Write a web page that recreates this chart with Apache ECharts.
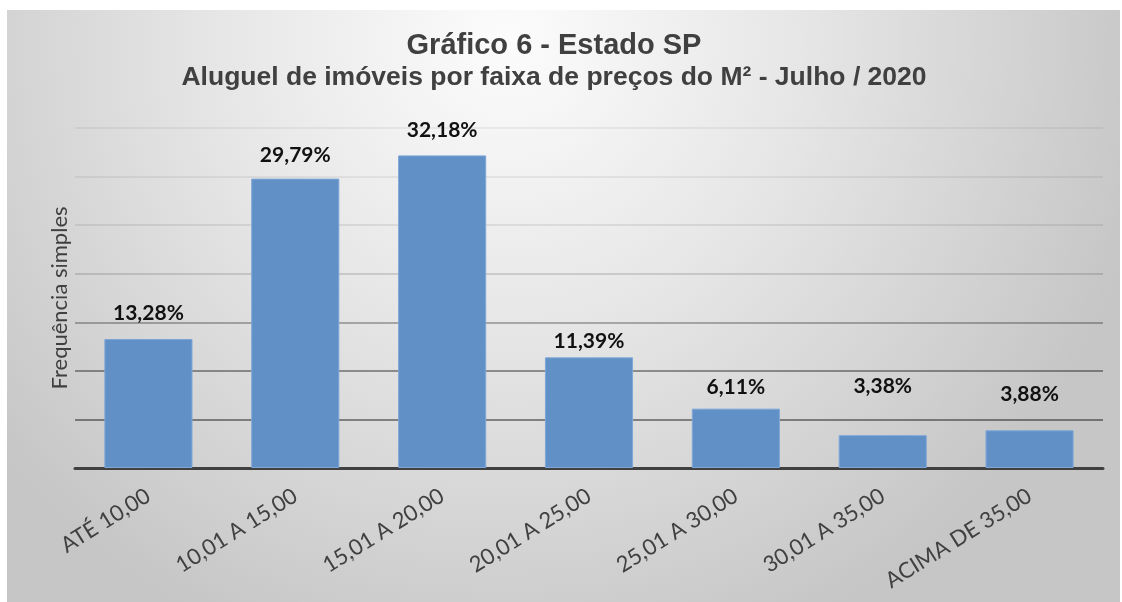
<!DOCTYPE html>
<html><head><meta charset="utf-8">
<script src="https://cdn.jsdelivr.net/npm/echarts@6/dist/echarts.min.js"></script>
<style>
html,body{margin:0;padding:0;background:#fff;width:1122px;height:602px;overflow:hidden}
#c{position:absolute;left:7px;top:10px;width:1113px;height:592px}
</style></head><body>
<div id="c"></div>
<script>
const categories = ['ATÉ 10,00','10,01 A 15,00','15,01 A 20,00','20,01 A 25,00','25,01 A 30,00','30,01 A 35,00','ACIMA DE 35,00'];
const values = [13.28, 29.79, 32.18, 11.39, 6.11, 3.38, 3.88];
const titleText = 'Gráfico 6 - Estado SP';
const subtitleText = 'Aluguel de imóveis por faixa de preços do M² - Julho / 2020';
const yName = 'Frequência simples';

const labelDistance = [15, 13, 15, 6, 11, 38, 26];
const chart = echarts.init(document.getElementById('c'));
chart.setOption({
  backgroundColor: {type:'radial', x:0.45, y:0.05, r:1.1, colorStops:[
    {offset:0, color:'#fcfcfc'},{offset:0.45, color:'#e6e6e6'},{offset:1, color:'#c6c6c6'}]},
  graphic: [
    {type:'text', x:547, y:36, style:{text:titleText, textAlign:'center', textVerticalAlign:'middle',
      font:'bold 29px "Liberation Sans"', fill:'#404040'}},
    {type:'text', x:547, y:68, style:{text:subtitleText, textAlign:'center', textVerticalAlign:'middle',
      font:'bold 26.5px "Liberation Sans"', fill:'#404040'}}
  ],
  grid: {left:68, right:17, top:118, bottom:134, containLabel:false},
  xAxis: {
    type:'category', data: categories,
    axisLine:{lineStyle:{color:'#404040', width:3}},
    axisTick:{show:false},
    axisLabel:{rotate:32, interval:0, margin:26, fontFamily:'Lato', fontSize:22, color:'#404040'}
  },
  yAxis: {
    type:'value', min:0, max:35, interval:5,
    name: yName, nameLocation:'middle', nameGap:4, nameRotate:90,
    nameTextStyle:{fontFamily:'Lato', fontSize:22, color:'#404040'},
    axisLabel:{show:false}, axisLine:{show:false}, axisTick:{show:false},
    splitLine:{lineStyle:{width:2, color:['rgba(0,0,0,0.6)','rgba(0,0,0,0.42)','rgba(0,0,0,0.38)','rgba(0,0,0,0.28)','rgba(0,0,0,0.13)','rgba(0,0,0,0.08)','rgba(0,0,0,0.06)','rgba(0,0,0,0.05)']}}
  },
  series: [{
    type:'bar', barCategoryGap:'40%',
    data: values.map((v,i)=>({value:v, label:{distance:labelDistance[i]}})),
    itemStyle:{color:'#6190c6', borderColor:'#7ea7d8', borderWidth:1},
    label:{show:true, position:'top', fontFamily:'Lato', fontWeight:'bold', fontSize:21, color:'#111',
      formatter: p => p.value.toFixed(2).replace('.', ',') + '%'}
  }]
});
</script>
</body></html>
